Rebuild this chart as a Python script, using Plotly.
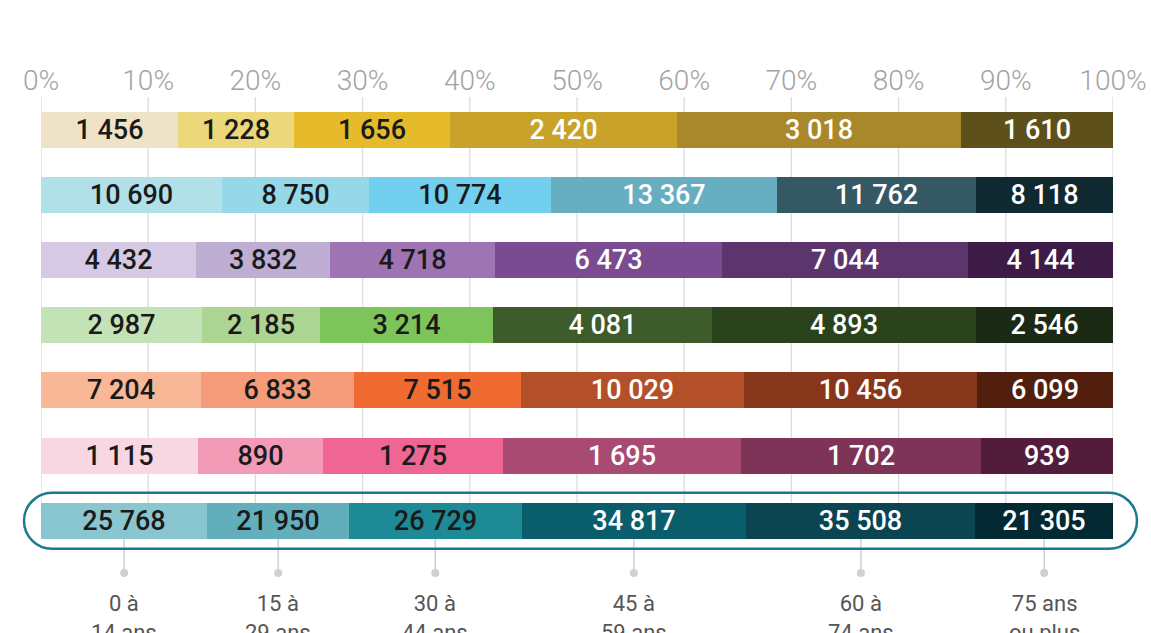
import plotly.graph_objects as go

# ---------------- data ----------------
age_groups = ["0 à<br>14 ans", "15 à<br>29 ans", "30 à<br>44 ans",
              "45 à<br>59 ans", "60 à<br>74 ans", "75 ans<br>ou plus"]
rows = ["Groupe 1", "Groupe 2", "Groupe 3", "Groupe 4", "Groupe 5", "Groupe 6", "Total"]

g0_14 = [1456, 10690, 4432, 2987, 7204, 1115, 25768]
g15_29 = [1228, 8750, 3832, 2185, 6833, 890, 21950]
g30_44 = [1656, 10774, 4718, 3214, 7515, 1275, 26729]
g45_59 = [2420, 13367, 6473, 4081, 10029, 1695, 34817]
g60_74 = [3018, 11762, 7044, 4893, 10456, 1702, 35508]
g75p = [1610, 8118, 4144, 2546, 6099, 939, 21305]

series = [g0_14, g15_29, g30_44, g45_59, g60_74, g75p]

tick_values = [0, 10, 20, 30, 40, 50, 60, 70, 80, 90, 100]
tick_labels = [f"{v}%" for v in tick_values]

# colours: one palette per row, light -> dark (one entry per age group)
row_palettes = [
    ["#efe3c7", "#edd77b", "#e5bb2b", "#c9a229", "#a8882a", "#5d501b"],
    ["#b2e0e8", "#97d8e8", "#72cfee", "#68aec1", "#355964", "#10282f"],
    ["#d6c9e3", "#bfaed4", "#9e74b2", "#7a4b90", "#5c356c", "#3c1c47"],
    ["#c3e2b5", "#acd594", "#7dc45b", "#3d5b2b", "#2b431d", "#1b2a14"],
    ["#f8b898", "#f49c79", "#ef6b31", "#b35029", "#85361b", "#521e0e"],
    ["#f9d7e2", "#f29ab6", "#ef6695", "#a94a73", "#7d3457", "#521d3b"],
    ["#8ac6cf", "#62afbb", "#1d8a96", "#0a5e6c", "#0b4552", "#032a33"],
]
text_colors = ["#1a1a1a", "#1a1a1a", "#1a1a1a", "#ffffff", "#ffffff", "#ffffff"]

# ---------------- derived ----------------
totals = [sum(s[i] for s in series) for i in range(len(rows))]
ypos = list(range(len(rows)))
BAR_W = 0.552


def fmt(v):
    return f"{v:,}".replace(",", " ")


fig = go.Figure()
for k, s in enumerate(series):
    pct = [v / t * 100 for v, t in zip(s, totals)]
    fig.add_trace(go.Bar(
        x=pct, y=ypos, orientation="h", width=BAR_W,
        marker=dict(color=[row_palettes[r][k] for r in range(len(rows))], line=dict(width=0)),
        text=[fmt(v) for v in s], textposition="inside", insidetextanchor="middle",
        textangle=0, constraintext="none",
        textfont=dict(family="Roboto", size=27, color=text_colors[k], weight=500),
        name=age_groups[k].replace("<br>", " "), showlegend=False, hoverinfo="skip",
    ))

shapes = []
last = len(rows) - 1
bar_bottom = last + BAR_W / 2
for v in tick_values:
    shapes.append(dict(type="line", xref="x", yref="y", x0=v, x1=v, y0=-0.5, y1=bar_bottom,
                       line=dict(color="#dcdcdc", width=1.3), layer="below"))

# connectors under the total bar
cum = 0
centers = []
for s in series:
    p = s[last] / totals[last] * 100
    centers.append(cum + p / 2)
    cum += p
DOT_Y = last + 0.8
for c in centers:
    shapes.append(dict(type="line", xref="x", yref="y", x0=c, x1=c, y0=bar_bottom, y1=DOT_Y,
                       line=dict(color="#d0d0d0", width=1.5), layer="below"))

fig.add_trace(go.Scatter(x=centers, y=[DOT_Y] * len(centers), mode="markers",
                         marker=dict(color="#d0d0d0", size=8), showlegend=False, hoverinfo="skip",
                         cliponaxis=False))

# rounded highlight around the total bar
L, R, r = -553, 560, 28
kk = 0.5523 * r
path = (f"M {L + r},{r} H {R - r} C {R - r + kk},{r} {R},{kk} {R},0 "
        f"C {R},{-kk} {R - r + kk},{-r} {R - r},{-r} H {L + r} "
        f"C {L + r - kk},{-r} {L},{-kk} {L},0 C {L},{kk} {L + r - kk},{r} {L + r},{r} Z")
shapes.append(dict(type="path", xref="paper", yref="y", xsizemode="pixel", ysizemode="pixel",
                   xanchor=0.5, yanchor=last, path=path, fillcolor="rgba(0,0,0,0)",
                   line=dict(color="#1b7a8b", width=2.5), layer="above"))

annotations = []
for c, lab in zip(centers, age_groups):
    annotations.append(dict(x=c, y=last + 1.05, xref="x", yref="y", text=lab, showarrow=False,
                            xanchor="center", yanchor="top", align="center",
                            font=dict(family="Roboto", size=22, color="#555555")))

fig.update_layout(
    width=1151, height=633,
    margin=dict(l=41, r=38, t=97, b=0),
    paper_bgcolor="white", plot_bgcolor="white",
    barmode="stack", bargap=0,
    font=dict(family="Roboto"),
    shapes=shapes, annotations=annotations,
    xaxis=dict(range=[0, 100], side="top", tickvals=tick_values, ticktext=tick_labels,
               showgrid=False, zeroline=False, showline=False, ticks="",
               ticklabelstandoff=0, automargin=False,
               tickfont=dict(family="Roboto", size=28, color="#a3a3a3", weight=300),
               fixedrange=True),
    yaxis=dict(range=[-0.5 + 536 / 65.2, -0.5], showticklabels=False, showgrid=False,
               zeroline=False, showline=False, fixedrange=True, automargin=False),
)

fig.write_html("out.html", config={"displayModeBar": False},
               post_script="document.body.style.margin='0px';document.body.style.overflow='hidden';")
